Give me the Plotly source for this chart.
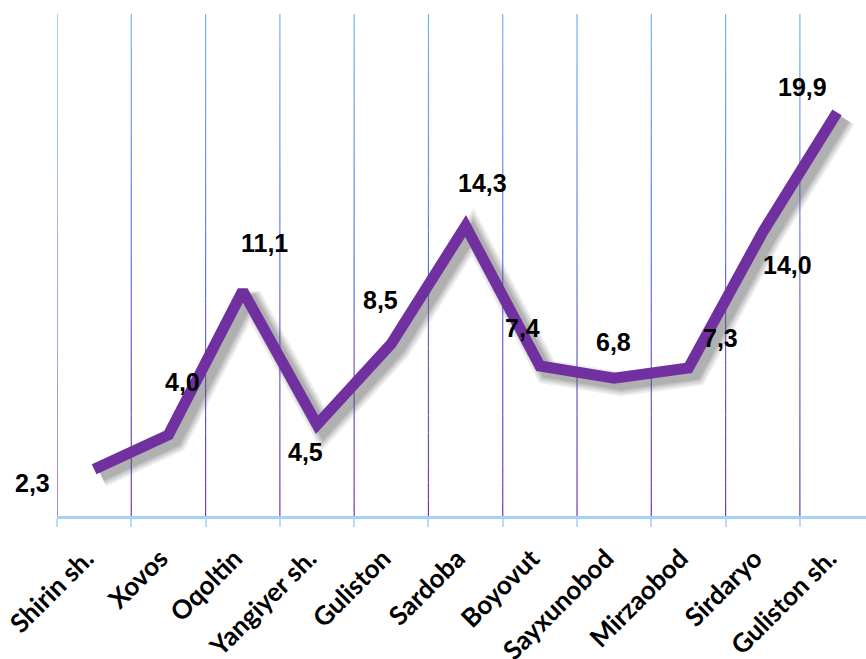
import plotly.graph_objects as go

categories = ["Shirin sh.", "Xovos", "Oqoltin", "Yangiyer sh.", "Guliston", "Sardoba",
              "Boyovut", "Sayxunobod", "Mirzaobod", "Sirdaryo", "Guliston sh."]
values = [2.3, 4.0, 11.1, 4.5, 8.5, 14.3, 7.4, 6.8, 7.3, 14.0, 19.9]
# label offsets in pixels (dx right, dy up) - style only
label_dx = [-62, 14, 22, -12, -11, 17, -17, -1, 32, 25, -35]
label_dy = [-14, 53, 48, -27, 44, 43, 38, 36, 30, -33, 25]

W, H = 866, 659
ML, MR, MT, MB = 57, 0, 14, 143
X_RANGE = [-0.5, 10.39]
Y_RANGE = [0, 24.75]
px_per_x = (W - ML - MR) / (X_RANGE[1] - X_RANGE[0])
px_per_y = (H - MT - MB) / (Y_RANGE[1] - Y_RANGE[0])

LINE_COLOR = "#7030A0"
SH_DX, SH_DY = 7, 6  # shadow offset in px

fig = go.Figure()

# shadow (on hidden base axes, shifted ranges)
for w, op in [(24, 0.10), (20, 0.12), (16, 0.15), (12, 0.2)]:
    fig.add_trace(go.Scatter(
        x=categories, y=values, mode="lines",
        line=dict(color="rgb(90,90,90)", width=w),
        opacity=op, xaxis="x", yaxis="y", hoverinfo="skip", showlegend=False,
    ))

# main line
fig.add_trace(go.Scatter(
    x=categories, y=values, mode="lines",
    line=dict(color=LINE_COLOR, width=11),
    xaxis="x2", yaxis="y2", showlegend=False,
))

# gradient vertical gridlines at category boundaries
def lerp(c1, c2, t):
    return tuple(int(round(a + (b - a) * t)) for a, b in zip(c1, c2))

top_c = (115, 180, 250)
mid_c = (100, 115, 228)
bot_c = (115, 55, 172)
NSEG = 30
shapes = []
for i in range(len(categories)):
    xb = i - 0.5
    for s in range(NSEG):
        t0 = s / NSEG
        t1 = (s + 1) / NSEG
        tm = (t0 + t1) / 2  # 0 top -> 1 bottom
        if tm < 0.5:
            c = lerp(top_c, mid_c, tm / 0.5)
        else:
            c = lerp(mid_c, bot_c, (tm - 0.5) / 0.5)
        shapes.append(dict(
            type="line", xref="x2", yref="paper",
            x0=xb, x1=xb, y0=1 - t0, y1=1 - t1,
            line=dict(color="rgb(%d,%d,%d)" % c, width=1.2),
            layer="below",
        ))

annotations = []
for i, (c, v) in enumerate(zip(categories, values)):
    annotations.append(dict(
        x=c, y=v, xref="x2", yref="y2",
        text=f"<b>{v:.1f}</b>".replace(".", ","),
        showarrow=False, xshift=label_dx[i], yshift=label_dy[i],
        font=dict(family="Liberation Sans, Arial, sans-serif", size=25, color="#000000"),
    ))

sx = SH_DX / px_per_x
sy = SH_DY / px_per_y

fig.update_layout(
    width=W, height=H,
    margin=dict(l=ML, r=MR, t=MT, b=MB, pad=0, autoexpand=False),
    paper_bgcolor="white", plot_bgcolor="white",
    showlegend=False,
    xaxis=dict(visible=False, type="category", categoryarray=categories,
               range=[X_RANGE[0] - sx, X_RANGE[1] - sx], fixedrange=True),
    yaxis=dict(visible=False, range=[Y_RANGE[0] + sy, Y_RANGE[1] + sy], fixedrange=True),
    xaxis2=dict(
        overlaying="x", anchor="y2", type="category", categoryarray=categories,
        range=X_RANGE, showgrid=False, zeroline=False, automargin=False,
        showline=True, linecolor="#a9d1f7", linewidth=3,
        ticks="outside", tickson="boundaries", ticklen=8, tickwidth=1.5,
        tickcolor="#b9dcfa", tickangle=-45, ticklabelstandoff=14, ticklabelshift=-8,
        tickfont=dict(family="Lato, 'Open Sans', sans-serif", size=26, color="#000000", weight="bold"),
    ),
    yaxis2=dict(overlaying="y", anchor="x2", range=Y_RANGE, visible=False, automargin=False),
    shapes=shapes,
    annotations=annotations,
)

fig.write_html("out.html", config={"displayModeBar": False},
               post_script="document.body.style.margin='0';document.body.style.overflow='hidden';")
